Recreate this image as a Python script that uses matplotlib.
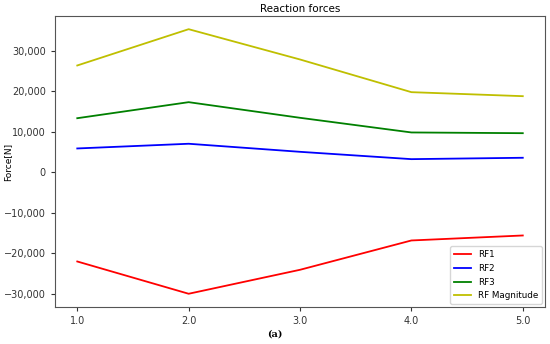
import matplotlib
matplotlib.use("Agg")
import matplotlib.pyplot as plt
from matplotlib.ticker import FuncFormatter

steps = [1.0, 2.0, 3.0, 4.0, 5.0]
rf1 = [-21980, -29950, -24030, -16790, -15560]
rf2 = [5930, 7090, 5100, 3290, 3630]
rf3 = [13400, 17360, 13500, 9880, 9700]
rf_mag = [26420, 35380, 27900, 19830, 18840]

fig = plt.figure(figsize=(5.5, 3.44), dpi=100)
ax = fig.add_axes([0.1, 0.1076, 0.891, 0.846])

ax.plot(steps, rf1, color='r', lw=1.3, label='RF1')
ax.plot(steps, rf2, color='b', lw=1.3, label='RF2')
ax.plot(steps, rf3, color='g', lw=1.3, label='RF3')
ax.plot(steps, rf_mag, color='y', lw=1.3, label='RF Magnitude')

ax.set_xticks(steps)
ax.set_xticklabels(['%.1f' % s for s in steps])
ax.set_yticks([-30000, -20000, -10000, 0, 10000, 20000, 30000])
ax.yaxis.set_major_formatter(FuncFormatter(lambda v, p: '{:,.0f}'.format(v).replace('-', '\u2212')))
ax.tick_params(labelsize=7, colors='#333333', length=3)
for s in ax.spines.values():
    s.set_color('#555555')

ax.set_title('Reaction forces', fontsize=7.5, pad=3)
ax.set_ylabel('Force[N]', fontsize=6.5)
ax.yaxis.set_label_coords(-0.088, 0.5)
ax.legend(loc='lower right', fontsize=6.3, framealpha=0.8, handlelength=2.0,
          borderaxespad=0.35, labelspacing=0.55)

fig.text(0.5, 0.03, '(a)', ha='center', va='center', fontsize=7, fontweight='bold', family='serif')

fig.savefig('out.png', dpi=100)
